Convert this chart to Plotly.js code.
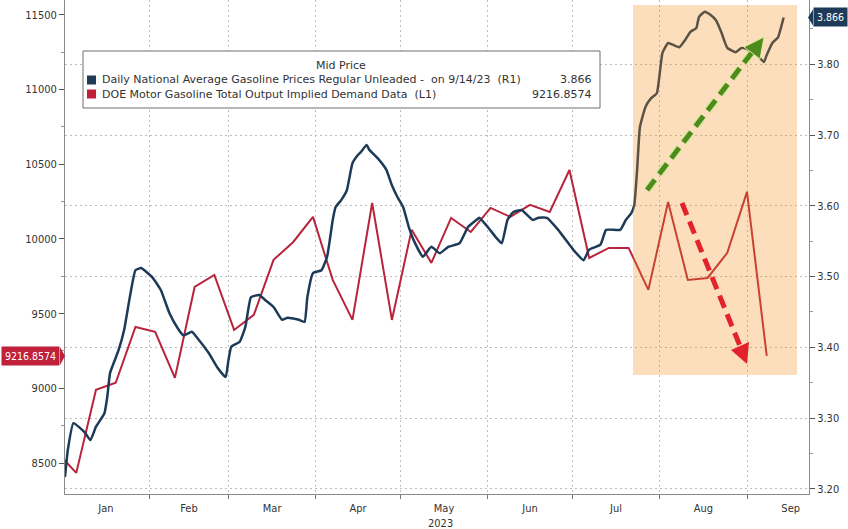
<!DOCTYPE html>
<html><head><meta charset="utf-8">
<script src="https://cdn.plot.ly/plotly-3.0.1.min.js"></script>
<style>body{margin:0;background:#fff}</style>
</head><body><div id="chart" style="width:848px;height:529px"></div>
<script>
// ---- data ----
const priceDates = ['2023-01-02','2023-01-03','2023-01-05','2023-01-09','2023-01-11','2023-01-13','2023-01-16','2023-01-17','2023-01-18','2023-01-21','2023-01-23','2023-01-25','2023-01-27','2023-01-29','2023-02-02','2023-02-05','2023-02-08','2023-02-11','2023-02-13','2023-02-16','2023-02-18','2023-02-22','2023-02-25','2023-02-28','2023-03-01','2023-03-02','2023-03-05','2023-03-07','2023-03-09','2023-03-12','2023-03-14','2023-03-17','2023-03-20','2023-03-22','2023-03-26','2023-03-28','2023-03-29','2023-03-31','2023-04-03','2023-04-05','2023-04-07','2023-04-08','2023-04-10','2023-04-12','2023-04-14','2023-04-16','2023-04-17','2023-04-19','2023-04-20','2023-04-23','2023-04-26','2023-04-28','2023-04-30','2023-05-02','2023-05-04','2023-05-06','2023-05-09','2023-05-12','2023-05-15','2023-05-18','2023-05-22','2023-05-25','2023-05-28','2023-05-29','2023-06-01','2023-06-04','2023-06-06','2023-06-08','2023-06-10','2023-06-13','2023-06-17','2023-06-19','2023-06-22','2023-06-26','2023-06-30','2023-07-02','2023-07-05','2023-07-07','2023-07-11','2023-07-13','2023-07-18','2023-07-20','2023-07-22','2023-07-23','2023-07-24','2023-07-25','2023-07-27','2023-07-29','2023-07-31','2023-08-02','2023-08-04','2023-08-06','2023-08-08','2023-08-10','2023-08-12','2023-08-14','2023-08-15','2023-08-17','2023-08-19','2023-08-21','2023-08-23','2023-08-25','2023-08-28','2023-08-30','2023-09-02','2023-09-04','2023-09-07','2023-09-08','2023-09-10','2023-09-12','2023-09-14'];
const priceValues = [3.217,3.255,3.293,3.280,3.269,3.288,3.307,3.330,3.364,3.396,3.425,3.471,3.509,3.512,3.499,3.481,3.449,3.427,3.417,3.422,3.413,3.392,3.372,3.358,3.382,3.401,3.408,3.429,3.471,3.474,3.467,3.457,3.439,3.442,3.439,3.436,3.471,3.505,3.509,3.528,3.580,3.598,3.608,3.622,3.660,3.672,3.676,3.686,3.679,3.667,3.651,3.629,3.612,3.598,3.570,3.549,3.528,3.542,3.533,3.542,3.547,3.570,3.580,3.583,3.570,3.555,3.547,3.580,3.591,3.594,3.580,3.583,3.583,3.566,3.545,3.535,3.523,3.538,3.545,3.566,3.566,3.580,3.590,3.601,3.650,3.711,3.740,3.752,3.759,3.816,3.830,3.827,3.824,3.834,3.846,3.851,3.867,3.874,3.870,3.862,3.844,3.823,3.817,3.823,3.820,3.816,3.803,3.813,3.830,3.838,3.866];

const demandDates = ['2022-12-30','2023-01-06','2023-01-13','2023-01-20','2023-01-27','2023-02-03','2023-02-10','2023-02-17','2023-02-24','2023-03-03','2023-03-10','2023-03-17','2023-03-24','2023-03-31','2023-04-07','2023-04-14','2023-04-21','2023-04-28','2023-05-05','2023-05-12','2023-05-19','2023-05-26','2023-06-02','2023-06-09','2023-06-16','2023-06-23','2023-06-30','2023-07-07','2023-07-14','2023-07-21','2023-07-28','2023-08-04','2023-08-11','2023-08-18','2023-08-25','2023-09-01','2023-09-08'];
const demandValues = [8575,8434,8990,9037,9411,9378,9070,9679,9759,9391,9492,9860,9980,10148,9726,9458,10241,9458,10061,9840,10141,10047,10208,10148,10228,10181,10462,9873,9940,9940,9659,10248,9726,9739,9907,10315,9216.8574];

const priceName = 'Daily National Average Gasoline Prices Regular Unleaded -&nbsp; on 9/14/23&nbsp; (R1)';
const demandName = 'DOE Motor Gasoline Total Output Implied Demand Data&nbsp; (L1)';
const legendTitle = 'Mid Price';
const lastPriceLabel = '3.866';
const lastDemandLabel = '9216.8574';
const yearLabel = '2023';

// ---- style / geometry ----
const FONT = 'DejaVu Sans Condensed, Liberation Sans, Arial, sans-serif';
const LFONT = 'DejaVu Sans, Verdana, sans-serif';
const BLUE = '#1d3b58', RED = '#b8243b';
const W = 848, H = 529, ML = 65, MR = 39, MT = 0, MB = 35;
const PW = W - ML - MR, PH = H - MT - MB;
const px = X => (X - ML) / PW;
const py = Y => 1 - (Y - MT) / PH;
const P = (X, Y) => px(X) + ',' + py(Y);
const yL = [8292.5, 11600], yR = [3.1929, 3.8907];
const lastPrice = priceValues[priceValues.length - 1];
const lastDemand = demandValues[demandValues.length - 1];
const YofR = v => MT + (yR[1] - v) / (yR[1] - yR[0]) * PH;
const YofL = v => MT + (yL[1] - v) / (yL[1] - yL[0]) * PH;

const traces = [
  {x: demandDates, y: demandValues, type: 'scatter', mode: 'lines', yaxis: 'y',
   line: {color: RED, width: 2}, hoverinfo: 'skip'},
  {x: priceDates, y: priceValues, type: 'scatter', mode: 'lines', yaxis: 'y2',
   line: {color: BLUE, width: 2.5, shape: 'spline', smoothing: 0.4}, hoverinfo: 'skip'}
];

const GRID = '#bdbdbd';
const shapes = [
  {type: 'rect', xref: 'paper', yref: 'paper', layer: 'above',
   x0: px(633), x1: px(797), y0: py(375), y1: py(5),
   fillcolor: 'rgba(245,140,28,0.29)', line: {width: 0}},
  {type: 'rect', xref: 'paper', yref: 'paper', layer: 'above',
   x0: px(83), x1: px(600), y0: py(108), y1: py(51),
   fillcolor: '#ffffff', line: {color: '#6e6e6e', width: 1}},
  {type: 'rect', xref: 'paper', yref: 'paper', layer: 'above',
   x0: px(87), x1: px(96), y0: py(84.5), y1: py(75.5), fillcolor: BLUE, line: {width: 0}},
  {type: 'rect', xref: 'paper', yref: 'paper', layer: 'above',
   x0: px(87), x1: px(96), y0: py(98.5), y1: py(89.5), fillcolor: '#c0203a', line: {width: 0}},
  {type: 'line', xref: 'paper', yref: 'paper', layer: 'above',
   x0: px(647), y0: py(190), x1: px(753), y1: py(51),
   line: {color: '#d6ea9c', width: 8, dash: '13px,7px'}},
  {type: 'line', xref: 'paper', yref: 'paper', layer: 'above',
   x0: px(647), y0: py(190), x1: px(753), y1: py(51),
   line: {color: '#4f8a1d', width: 5, dash: '13px,7px'}},
  {type: 'path', xref: 'paper', yref: 'paper', layer: 'above',
   path: 'M' + P(764, 37) + ' L' + P(760, 59) + ' L' + P(744, 47) + ' Z',
   fillcolor: '#4f8a1d', line: {color: '#d6ea9c', width: 1}},
  {type: 'line', xref: 'paper', yref: 'paper', layer: 'above',
   x0: px(682), y0: py(203), x1: px(740), y1: py(346),
   line: {color: '#e3222c', width: 5, dash: '13px,7px'}},
  {type: 'path', xref: 'paper', yref: 'paper', layer: 'above',
   path: 'M' + P(747, 364) + ' L' + P(749, 342) + ' L' + P(731, 350) + ' Z',
   fillcolor: '#e3222c', line: {width: 0}},
  {type: 'path', xref: 'paper', yref: 'paper', layer: 'above',
   path: 'M' + P(808, YofR(lastPrice)) + ' L' + P(813, YofR(lastPrice) - 8) + ' L' + P(813, YofR(lastPrice) + 8) + ' Z',
   fillcolor: BLUE, line: {width: 0}},
  {type: 'path', xref: 'paper', yref: 'paper', layer: 'above',
   path: 'M' + P(65, YofL(lastDemand)) + ' L' + P(60, YofL(lastDemand) - 9) + ' L' + P(60, YofL(lastDemand) + 9) + ' Z',
   fillcolor: '#c0203a', line: {width: 0}}
];

const TXT = '#333333';
const annotations = [
  {xref: 'paper', yref: 'paper', x: px(341), y: py(65.5), text: legendTitle, showarrow: false,
   xanchor: 'center', yanchor: 'middle', font: {family: LFONT, size: 11, color: TXT}},
  {xref: 'paper', yref: 'paper', x: px(100), y: py(80), text: priceName, showarrow: false,
   xanchor: 'left', yanchor: 'middle', font: {family: LFONT, size: 11, color: TXT}},
  {xref: 'paper', yref: 'paper', x: px(100), y: py(94), text: demandName, showarrow: false,
   xanchor: 'left', yanchor: 'middle', font: {family: LFONT, size: 11, color: TXT}},
  {xref: 'paper', yref: 'paper', x: px(594), y: py(80), text: lastPriceLabel, showarrow: false,
   xanchor: 'right', yanchor: 'middle', font: {family: LFONT, size: 11, color: TXT}},
  {xref: 'paper', yref: 'paper', x: px(594), y: py(94), text: lastDemandLabel, showarrow: false,
   xanchor: 'right', yanchor: 'middle', font: {family: LFONT, size: 11, color: TXT}},
  {xref: 'paper', yref: 'y2', x: 1, y: lastPrice, xshift: 4, text: lastPriceLabel, showarrow: false,
   xanchor: 'left', yanchor: 'middle', bgcolor: BLUE, borderpad: 3,
   font: {family: FONT, size: 10.5, color: '#ffffff'}},
  {xref: 'paper', yref: 'y', x: 0, y: lastDemand, xshift: -5, text: lastDemandLabel, showarrow: false,
   xanchor: 'right', yanchor: 'middle', bgcolor: '#c0203a', borderpad: 3,
   font: {family: FONT, size: 10.5, color: '#ffffff'}},
  {xref: 'paper', yref: 'paper', x: px(440), y: 0, yshift: -21, text: yearLabel, showarrow: false,
   xanchor: 'center', yanchor: 'top', font: {family: FONT, size: 11, color: TXT}}
];

const layout = {
  width: W, height: H,
  margin: {l: ML, r: MR, t: MT, b: MB, pad: 0},
  paper_bgcolor: '#ffffff', plot_bgcolor: '#ffffff',
  showlegend: false,
  font: {family: FONT, size: 11, color: TXT},
  xaxis: {
    type: 'date', range: ['2023-01-02', '2023-09-23'],
    dtick: 'M1', tick0: '2023-01-01', tickformat: '%b', ticklabelmode: 'period',
    showgrid: true, gridcolor: GRID, griddash: '2px,3px', gridwidth: 1,
    ticks: 'outside', ticklen: 4, tickcolor: '#777',
    showline: true, linecolor: '#8a8a8a', linewidth: 1,
    tickfont: {family: FONT, size: 11, color: TXT}, zeroline: false
  },
  yaxis: {
    range: yL, dtick: 500, tick0: 0, tickformat: 'd',
    showgrid: false, zeroline: false,
    ticks: 'outside', ticklen: 5, tickcolor: '#555',
    minor: {dtick: 250, ticks: 'outside', ticklen: 3, tickcolor: '#999', showgrid: false},
    showline: true, linecolor: '#8a8a8a', linewidth: 1,
    tickfont: {family: FONT, size: 11, color: TXT}
  },
  yaxis2: {
    range: yR, dtick: 0.1, tick0: 0, tickformat: '.2f',
    overlaying: 'y', side: 'right',
    showgrid: true, gridcolor: GRID, griddash: '2px,3px', gridwidth: 1, zeroline: false,
    ticks: 'outside', ticklen: 5, tickcolor: '#555',
    minor: {dtick: 0.05, ticks: 'outside', ticklen: 3, tickcolor: '#999', showgrid: false},
    showline: true, linecolor: '#8a8a8a', linewidth: 1,
    tickfont: {family: FONT, size: 11, color: TXT}
  },
  shapes: shapes,
  annotations: annotations
};

Plotly.newPlot('chart', traces, layout, {displayModeBar: false, staticPlot: true});
</script>
</body></html>
